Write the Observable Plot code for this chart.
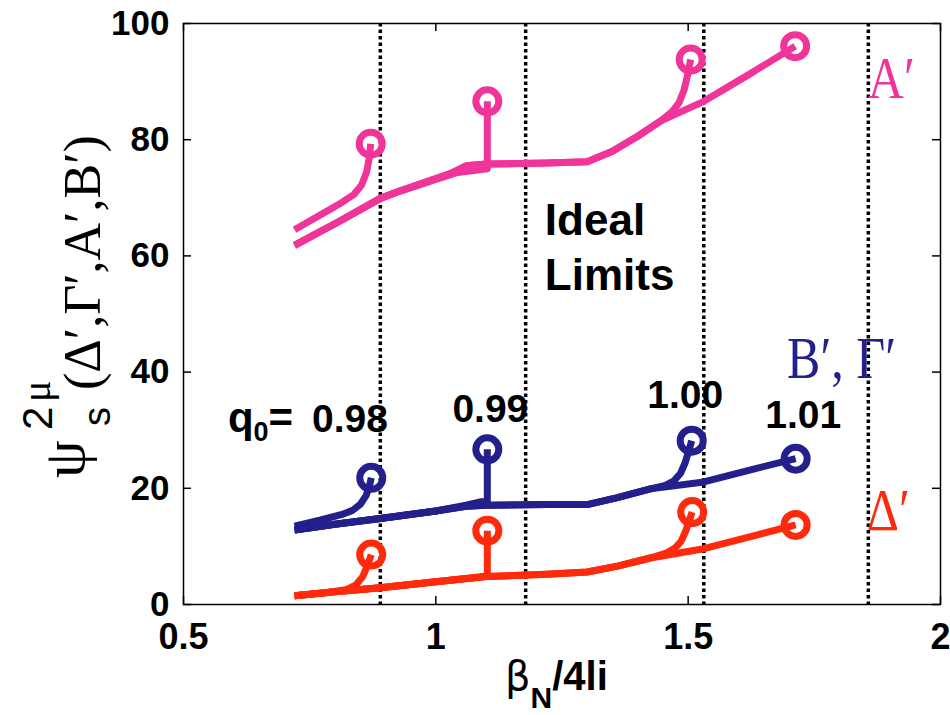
<!DOCTYPE html>
<html>
<head>
<meta charset="utf-8">
<script src="https://cdn.jsdelivr.net/npm/d3@7"></script>
<script src="https://cdn.jsdelivr.net/npm/@observablehq/plot@0.6"></script>
<style>
  html, body { margin: 0; padding: 0; background: white; }
</style>
</head>
<body>
<div id="chart"></div>
<script>
// ---------- data ----------
const xTicks = [0.5, 1, 1.5, 2];
const yTicks = [0, 20, 40, 60, 80, 100];
const idealLimits = [0.89, 1.178, 1.531, 1.857];
const q0Labels = ["0.98", "0.99", "1.00", "1.01"];
const curveNames = ["A′", "B′, Γ′", "Δ′"];
const limitText = ["Ideal", "Limits"];

// A' (pink) — one path per q0 scan, ending at the ideal limit (circle)
const aQ098 = [[0.72,64.5],[0.77,67.0],[0.814,69.2],[0.838,70.6],[0.853,72.2],[0.863,74.5],[0.868,76.8],[0.871,79.3]];
const aQ099 = [[0.72,61.8],[0.81,66.0],[0.89,69.9],[0.93,71.2],[1.04,74.3],[1.102,75.0],[1.102,86.6]];
const aQ100 = [[0.72,61.8],[0.81,66.0],[0.89,69.9],[0.93,71.2],[1.03,74.2],[1.06,75.5],[1.10,75.8],[1.22,76.0],[1.30,76.2],[1.35,78.0],[1.40,80.6],[1.445,83.2],[1.468,84.8],[1.482,86.4],[1.492,88.6],[1.499,91.2],[1.505,93.8]];
const aQ101 = [[0.72,61.8],[0.81,66.0],[0.89,69.9],[0.93,71.2],[1.03,74.2],[1.06,75.5],[1.10,75.8],[1.22,76.0],[1.30,76.2],[1.35,78.0],[1.40,80.6],[1.445,83.2],[1.531,86.6],[1.62,91.2],[1.712,96.1]];

// B', Gamma' (navy)
const gQ098 = [[0.72,13.5],[0.77,14.5],[0.814,15.5],[0.835,16.2],[0.851,17.3],[0.862,18.8],[0.868,20.2],[0.872,21.8]];
const gQ099 = [[0.72,12.8],[0.80,13.8],[0.89,14.8],[1.00,16.1],[1.06,17.1],[1.09,17.7],[1.102,17.7],[1.102,26.7]];
const gQ100 = [[0.72,12.8],[0.80,13.8],[0.89,14.8],[1.00,16.1],[1.06,16.9],[1.10,17.1],[1.22,17.2],[1.30,17.2],[1.36,18.4],[1.425,19.9],[1.455,20.5],[1.472,21.3],[1.485,22.6],[1.494,24.4],[1.501,26.4],[1.507,28.2]];
const gQ101 = [[0.72,12.8],[0.80,13.8],[0.89,14.8],[1.00,16.1],[1.06,16.9],[1.10,17.1],[1.22,17.2],[1.30,17.2],[1.36,18.4],[1.425,19.9],[1.531,21.1],[1.62,23.1],[1.713,25.1]];

// Delta' (red)
const dQ098 = [[0.72,1.5],[0.78,2.0],[0.824,2.6],[0.842,3.4],[0.855,4.8],[0.864,6.6],[0.872,8.6]];
const dQ099 = [[0.72,1.5],[0.80,2.2],[0.89,2.9],[1.00,3.9],[1.102,4.9],[1.102,12.7]];
const dQ100 = [[0.72,1.5],[0.80,2.2],[0.89,2.9],[1.00,3.9],[1.10,4.8],[1.22,5.2],[1.30,5.6],[1.36,6.6],[1.425,8.0],[1.458,8.9],[1.474,9.7],[1.486,10.9],[1.495,12.6],[1.501,14.2],[1.508,15.9]];
const dQ101 = [[0.72,1.5],[0.80,2.2],[0.89,2.9],[1.00,3.9],[1.10,4.8],[1.22,5.2],[1.30,5.6],[1.36,6.6],[1.425,8.0],[1.531,9.6],[1.62,11.6],[1.713,13.7]];

// ---------- build tables ----------
const PINK = "#f0349a", NAVY = "#231f8c", RED = "#ff2a0c";
const groups = [
  {color: PINK, scans: [aQ098, aQ099, aQ100, aQ101]},
  {color: NAVY, scans: [gQ098, gQ099, gQ100, gQ101]},
  {color: RED,  scans: [dQ098, dQ099, dQ100, dQ101]}
];
const lineRows = [];
const endRows = [];
groups.forEach((g, gi) => {
  g.scans.forEach((pts, si) => {
    pts.forEach(([x, y]) => lineRows.push({x, y, key: gi + "-" + si, color: g.color}));
    const [ex, ey] = pts[pts.length - 1];
    endRows.push({x: ex, y: ey, color: g.color});
  });
});

// ---------- layout ----------
const W = 950, H = 715;
const mL = 183, mR = 10, mT = 23, mB = 111;
const innerW = W - mL - mR, innerH = H - mT - mB;
const SANS = "'Liberation Sans', Arial, Helvetica, sans-serif";
const SERIF = "'Liberation Serif', 'Times New Roman', 'DejaVu Serif', serif";

const svg = Plot.plot({
  width: W, height: H,
  marginLeft: mL, marginRight: mR, marginTop: mT, marginBottom: mB,
  style: {fontFamily: SANS, background: "white", color: "black"},
  x: {domain: [0.5, 2]},
  y: {domain: [0, 100]},
  color: {type: "identity"},
  marks: [
    Plot.ruleX(idealLimits, {x: d => d, stroke: "black", strokeWidth: 3.5, strokeDasharray: "3.5,3"}),
    Plot.line(lineRows, {x: "x", y: "y", z: "key", stroke: "color", strokeWidth: 7, strokeLinejoin: "round", strokeLinecap: "butt"}),
    Plot.dot(endRows, {x: "x", y: "y", r: 11.5, stroke: "color", strokeWidth: 7, fill: "none"}),
    Plot.frame({stroke: "black", strokeWidth: 1.5}),
    Plot.tickX(xTicks, {x: d => d, insetTop: innerH - 8, stroke: "black", strokeWidth: 1.5}),
    Plot.tickX(xTicks, {x: d => d, insetBottom: innerH - 8, stroke: "black", strokeWidth: 1.5}),
    Plot.tickY(yTicks, {y: d => d, insetRight: innerW - 8, stroke: "black", strokeWidth: 1.5}),
    Plot.tickY(yTicks, {y: d => d, insetLeft: innerW - 8, stroke: "black", strokeWidth: 1.5}),
    Plot.axisX(xTicks, {tickSize: 0, tickPadding: 19, fontSize: 36, fontWeight: "bold", label: null, tickFormat: d => String(d)}),
    Plot.axisY(yTicks, {tickSize: 0, tickPadding: 14, fontSize: 35, fontWeight: "bold", label: null, dy: 0, tickFormat: d => String(d)})
  ]
});

document.getElementById("chart").appendChild(svg);

const sx = svg.scale("x"), sy = svg.scale("y");
const root = d3.select(svg);
const X = v => sx.apply(v), Y = v => sy.apply(v);

// "Ideal Limits"
root.append("text").attr("x", X(1.217)).attr("y", Y(63.5)).attr("text-anchor", "start")
  .attr("font-family", SANS).attr("font-weight", "bold").attr("font-size", 44).text(limitText[0]);
root.append("text").attr("x", X(1.217)).attr("y", Y(54.0)).attr("text-anchor", "start")
  .attr("font-family", SANS).attr("font-weight", "bold").attr("font-size", 44).text(limitText[1]);

// q0 labels
const q = root.append("text").attr("x", X(0.589)).attr("y", Y(29.6)).attr("text-anchor", "start")
  .attr("font-family", SANS).attr("font-weight", "bold").attr("font-size", 42);
q.append("tspan").text("q");
q.append("tspan").attr("font-size", 27).attr("dy", 9).text("0");
q.append("tspan").attr("dy", -9).text("=");
root.append("text").attr("x", X(0.906)).attr("y", Y(29.6)).attr("text-anchor", "end")
  .attr("font-family", SANS).attr("font-weight", "bold").attr("font-size", 39).text(q0Labels[0]);
[[1.109, 31.3, 1], [1.495, 33.7, 2], [1.729, 30.3, 3]].forEach(([lx, ly, i]) => {
  root.append("text").attr("x", X(lx)).attr("y", Y(ly)).attr("text-anchor", "middle")
    .attr("font-family", SANS).attr("font-weight", "bold").attr("font-size", 39).text(q0Labels[i]);
});

// curve names
[[1.857, 87.1, 0, PINK], [1.697, 38.9, 1, NAVY], [1.855, 12.7, 2, RED]].forEach(([lx, ly, i, c]) => {
  root.append("text")
    .attr("transform", `translate(${X(lx)},${Y(ly)}) scale(1,1.2)`)
    .attr("text-anchor", "start")
    .attr("font-family", SERIF).attr("font-size", 50).attr("fill", c).text(curveNames[i]);
});

// x-axis label: beta_N / 4li
const xl = root.append("text").attr("x", 505).attr("y", 690).attr("text-anchor", "start")
  .attr("font-family", SANS).attr("font-size", 40);
xl.append("tspan").attr("font-family", "'DejaVu Sans', sans-serif").attr("font-size", 40).text("β");
xl.append("tspan").attr("font-weight", "bold").attr("font-size", 30).attr("dy", 18).text("N");
xl.append("tspan").attr("font-weight", "bold").attr("dy", -18).text("/4li");

// y-axis label: psi_s^{2mu}(Delta',Gamma',A',B')
const yl = root.append("text").attr("transform", "translate(100,478) rotate(-90)")
  .attr("text-anchor", "start").attr("fill", "black");
yl.append("tspan").attr("x", 0).attr("y", -16).attr("font-family", SERIF).attr("font-size", 60).text("ψ");
yl.append("tspan").attr("x", 48).attr("y", -48).attr("font-family", SANS).attr("font-size", 42).text("2");
yl.append("tspan").attr("x", 76).attr("y", -50).attr("font-family", SERIF).attr("font-size", 40).text("μ");
yl.append("tspan").attr("x", 52).attr("y", 10).attr("font-family", SANS).attr("font-size", 38).text("s");
yl.append("tspan").attr("x", 88).attr("y", 0).attr("font-family", SERIF).attr("font-size", 52).text("(Δ′,Γ′,A′,B′)");
</script>
</body>
</html>
